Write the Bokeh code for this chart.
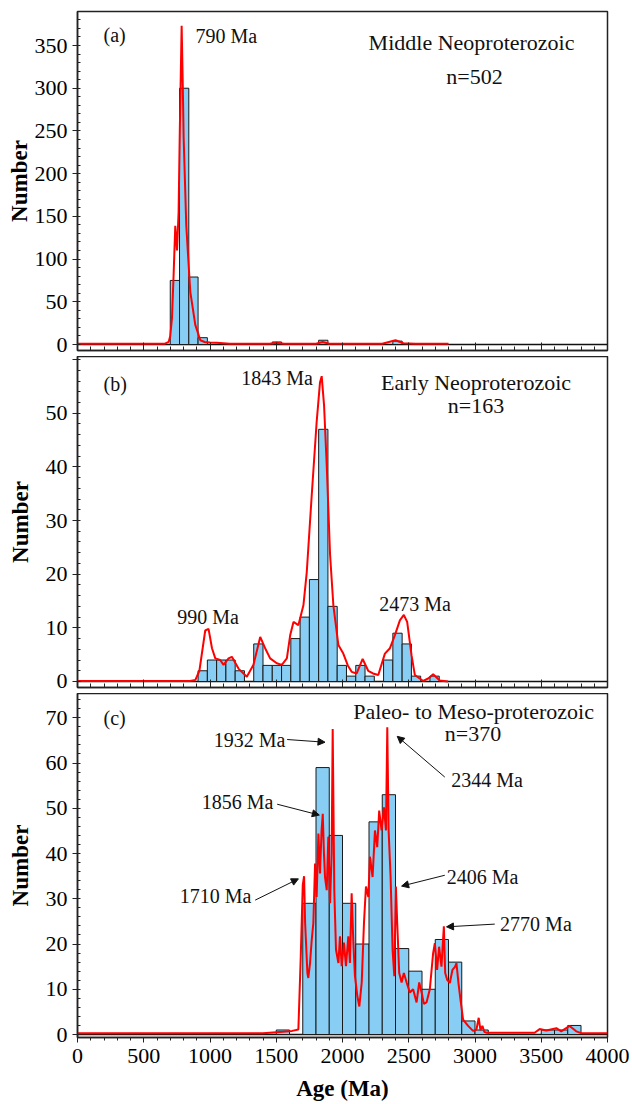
from bokeh.plotting import figure
from bokeh.layouts import column
from bokeh.models import Range1d, SingleIntervalTicker, Span, Arrow, NormalHead, Label
from bokeh.embed import file_html
from bokeh.resources import INLINE

# ---------------- data ----------------
# Panel (a) Middle Neoproterozoic, 70 Ma bins
a_bin_width = 70
a_bin_left = [700, 770, 840, 910, 1470, 1820, 2380]
a_counts = [75, 300, 79, 8, 3, 5, 4]
a_curve_age = [0, 600, 660, 688, 700, 713, 725, 738, 751, 763, 772, 786, 795, 801, 821, 851, 889, 927,
               960, 1000, 1050, 1150, 1450, 1500, 1560, 1800, 1850, 1900, 2300, 2400, 2460, 2550, 2800]
a_curve_val = [1, 1, 1, 3, 10, 31, 80, 139, 110, 155, 250, 373, 300, 243, 139, 62, 23, 5,
               3, 2.5, 2, 1, 1, 2, 1, 1, 3, 1, 1, 5, 1.5, 1, 1]

# Panel (b) Early Neoproterozoic, 70 Ma bins
b_bin_width = 70
b_bin_left = [910, 980, 1050, 1120, 1190, 1330, 1400, 1470, 1540, 1610, 1680, 1750, 1820, 1890,
              1960, 2030, 2100, 2170, 2310, 2380, 2450, 2520, 2660]
b_counts = [2, 4, 4, 4, 2, 7, 3, 3, 3, 8, 12, 19, 47, 14, 3, 1, 3, 1, 4, 9, 7, 1, 1]
b_curve_age = [0, 850, 890, 920, 964, 989, 1015, 1040, 1077, 1102, 1140, 1165, 1215, 1278, 1328, 1379,
               1416, 1454, 1504, 1542, 1580, 1605, 1630, 1667, 1705, 1730, 1768, 1805, 1830, 1843,
               1861, 1881, 1906, 1931, 1969, 2006, 2040, 2069, 2107, 2152, 2194, 2230, 2270, 2320,
               2358, 2395, 2433, 2463, 2488, 2521, 2546, 2609, 2650, 2684, 2734, 2797]
b_curve_val = [0.1, 0.1, 0.3, 2, 9.5, 9.8, 6.2, 4.3, 4.0, 3.1, 4.3, 4.6, 2.4, 0.9, 3.1, 8.3,
               6.2, 4.3, 3.4, 3.1, 4.3, 8.6, 11.1, 10.5, 14.2, 20.3, 34.8, 48.4, 55.7, 56.9,
               51.4, 40.3, 23.7, 14.2, 6.8, 5.2, 3, 1.8, 1.5, 4.2, 2, 1.5, 1.2, 5.2,
               6.2, 8.6, 11.4, 12.4, 11.1, 4.9, 1.2, 0.1, 0.6, 1.35, 0.2, 0]

# Panel (c) Paleo- to Meso-proterozoic, 100 Ma bins
c_bin_width = 100
c_bin_left = [1500, 1700, 1800, 1900, 2000, 2100, 2200, 2300, 2400, 2500, 2600, 2700, 2800, 2900,
              3000, 3500, 3600, 3700]
c_counts = [1, 29, 59, 44, 29, 20, 47, 53, 19, 14, 10, 21, 16, 3, 1, 1, 1, 2]
c_curve_age = [0, 1400, 1550, 1620, 1667, 1685, 1700, 1710, 1718, 1735, 1742, 1755, 1768, 1780, 1793,
               1805, 1818, 1830, 1842, 1851, 1860, 1868, 1881, 1893, 1906, 1918, 1926, 1938, 1951,
               1969, 1981, 1994, 2011, 2026, 2044, 2056, 2069, 2082, 2094, 2112, 2127, 2145, 2162,
               2177, 2195, 2207, 2227, 2245, 2262, 2277, 2295, 2313, 2328, 2338, 2348, 2363, 2378,
               2391, 2403, 2413, 2428, 2446, 2463, 2484, 2508, 2533, 2559, 2579, 2597, 2614, 2634,
               2659, 2684, 2697, 2714, 2729, 2747, 2765, 2775, 2790, 2810, 2830, 2850, 2860, 2875,
               2890, 2910, 2948, 2985, 3011, 3028, 3041, 3056, 3070, 3086, 3450, 3488, 3538, 3614,
               3651, 3714, 3764, 3802, 4000]
c_curve_val = [0.3, 0.3, 0.6, 0.8, 1.1, 17.3, 33, 35, 24.6, 13.6, 12.5, 15.8, 21, 24.6, 37.8,
               30.4, 44.4, 35.6, 45, 48.8, 40, 34.8, 31.9, 43.7, 29, 40, 67.5, 31.9, 18.7,
               15.8, 21.7, 15.1, 20.3, 15.1, 21.7, 15.8, 31.2, 20.3, 12.9, 8.5, 6.2, 11.5, 24.6,
               32.7, 30.4, 39.3, 34.8, 45.1, 41.4, 49.5, 45.1, 50.2, 45.1, 67.9, 45.1, 34.8, 18.7,
               12.9, 32.7, 24.6, 13.6, 11.5, 13.6, 11.5, 9.3, 10.0, 7.1, 11.5, 9.3, 6.8, 7.1,
               10.0, 18, 20.2, 14.3, 19.4, 15.0, 23.9, 13.6, 12.1, 11.4, 14.3, 15.0, 15.8, 11.4,
               7.8, 3.3, 1.9, 0.8, 1.1, 3.7, 1.0, 1.9, 0.6, 0.4, 0.4, 1.2, 0.9, 1.4,
               0.7, 1.9, 0.7, 0.3, 0.3]

x_ticks_interval = 500

# ---------------- styling ----------------
FONT = "Liberation Serif"
BAR_FILL = "#88CDF3"
RED = "#FF0000"
TICK_FS = "22px"
ANN_FS = "20px"
TITLE_FS = "22px"
GAP = 6


def make_panel(ymin, ymax, yint, frame_h, top_border, bottom_border, bottom, ylabel_standoff,
               hide_labels=()):
    p = figure(frame_width=530, frame_height=frame_h,
               x_range=Range1d(0, 4000), y_range=Range1d(ymin, ymax),
               output_backend="svg", toolbar_location=None,
               min_border_left=77, min_border_right=25,
               min_border_top=top_border, min_border_bottom=bottom_border)
    p.grid.visible = False
    p.outline_line_color = "#222222"
    p.outline_line_width = 1.5
    p.background_fill_color = "white"
    p.border_fill_color = "white"

    p.add_layout(Span(location=0, dimension="width", line_color="#111111",
                      line_width=1.5, level="underlay"))

    xa = p.xaxis[0]
    xa.ticker = SingleIntervalTicker(interval=x_ticks_interval, num_minor_ticks=5)
    xa.axis_line_color = "#222222"
    xa.axis_line_width = 1.5
    xa.major_tick_line_color = "#222222"
    xa.minor_tick_line_color = "#222222"
    if bottom:
        xa.major_tick_in = 0
        xa.major_tick_out = 5
        xa.minor_tick_in = 0
        xa.minor_tick_out = 3
        xa.major_label_text_font = FONT
        xa.major_label_text_font_size = TICK_FS
        xa.major_label_text_color = "black"
        xa.major_label_standoff = 6
        xa.axis_label = "Age (Ma)"
        xa.axis_label_text_font = FONT
        xa.axis_label_text_font_style = "bold"
        xa.axis_label_text_font_size = "23px"
        xa.axis_label_text_color = "black"
        xa.axis_label_standoff = 10
    else:
        xa.major_tick_in = 8
        xa.major_tick_out = 0
        xa.minor_tick_in = 4
        xa.minor_tick_out = 0
        xa.major_label_text_font_size = "0px"
        xa.major_label_standoff = 0
        xa.major_label_overrides = {t: "" for t in range(0, 4001, x_ticks_interval)}

    ya = p.yaxis[0]
    ya.ticker = SingleIntervalTicker(interval=yint, num_minor_ticks=5)
    ya.axis_line_color = "#222222"
    ya.axis_line_width = 1.5
    ya.major_tick_line_color = "#222222"
    ya.minor_tick_line_color = "#222222"
    ya.major_tick_in = 0
    ya.major_tick_out = 5
    ya.minor_tick_in = 3
    ya.minor_tick_out = 0
    ya.major_label_text_font = FONT
    ya.major_label_text_font_size = TICK_FS
    ya.major_label_text_color = "black"
    ya.major_label_standoff = 5
    if hide_labels:
        ya.major_label_overrides = {t: "" for t in hide_labels}
    ya.axis_label = "Number"
    ya.axis_label_text_font = FONT
    ya.axis_label_text_font_style = "bold"
    ya.axis_label_text_font_size = "23px"
    ya.axis_label_text_color = "black"
    ya.axis_label_standoff = ylabel_standoff
    return p


def add_hist(p, lefts, counts, width, ages, vals):
    rights = [l + width for l in lefts]
    p.quad(left=lefts, right=rights, bottom=0, top=counts,
           fill_color=BAR_FILL, line_color="#1a1a1a", line_width=1)
    p.line(ages, vals, line_color=RED, line_width=2)


def add_label(p, x, y, text, align="center", size=ANN_FS):
    p.add_layout(Label(x=x, y=y, text=text, text_font=FONT, text_font_size=size,
                       text_align=align, text_baseline="middle", text_color="#111111"))


def add_arrow(p, x0, y0, x1, y1):
    p.add_layout(Arrow(end=NormalHead(size=7, fill_color="#111111", line_color="#111111", line_width=1),
                       x_start=x0, y_start=y0, x_end=x1, y_end=y1,
                       line_color="#111111", line_width=1))


# Panel (a)
pa = make_panel(-7.0, 389.8, 50, 339, 11, GAP, False, 0)
add_hist(pa, a_bin_left, a_counts, a_bin_width, a_curve_age, a_curve_val)
add_label(pa, 196, 362, "(a)", align="left")
add_label(pa, 891, 361, "790 Ma", align="left")
add_label(pa, 2974, 353, "Middle Neoproterozoic", size=TITLE_FS)
add_label(pa, 2996, 314, "n=502", size=TITLE_FS)

# Panel (b)
pb = make_panel(-1.12, 60.57, 10, 331, 0, GAP, False, 10, hide_labels=(60,))
add_hist(pb, b_bin_left, b_counts, b_bin_width, b_curve_age, b_curve_val)
add_label(pb, 196, 55.5, "(b)", align="left")
add_label(pb, 1506, 56.6, "1843 Ma")
add_label(pb, 3008, 55.7, "Early Neoproterozoic", size=TITLE_FS)
add_label(pb, 3008, 51.4, "n=163", size=TITLE_FS)
add_label(pb, 985, 12.1, "990 Ma")
add_label(pb, 2547, 14.5, "2473 Ma")

# Panel (c)
pc = make_panel(-0.66, 75.37, 10, 344, 0, 0, True, 10)
add_hist(pc, c_bin_left, c_counts, c_bin_width, c_curve_age, c_curve_val)
add_label(pc, 196, 70, "(c)", align="left")
add_label(pc, 2989, 71.4, "Paleo- to Meso-proterozoic", size=TITLE_FS)
add_label(pc, 2985, 66.5, "n=370", size=TITLE_FS)
add_label(pc, 1298, 65.2, "1932 Ma")
add_label(pc, 1208, 51.3, "1856 Ma")
add_label(pc, 1042, 30.6, "1710 Ma")
add_label(pc, 3091, 56.2, "2344 Ma")
add_label(pc, 3057, 34.8, "2406 Ma")
add_label(pc, 3460, 24.4, "2770 Ma")
add_arrow(pc, 1582, 65.2, 1868, 64.6)
add_arrow(pc, 1507, 50.9, 1825, 48.5)
add_arrow(pc, 1341, 29.7, 1667, 34.4)
add_arrow(pc, 2772, 56.9, 2413, 65.9)
add_arrow(pc, 2772, 35.2, 2446, 32.8)
add_arrow(pc, 3149, 24.4, 2785, 23.8)

layout = column(pa, pb, pc, spacing=0)
open("out.html", "w").write(file_html(layout, INLINE))
